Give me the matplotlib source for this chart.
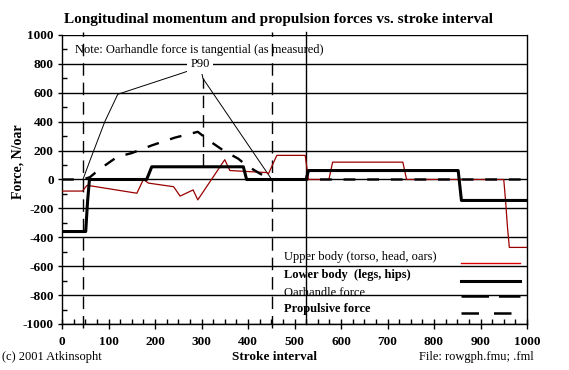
import numpy as np
import matplotlib
matplotlib.use("Agg")
import matplotlib.pyplot as plt

plt.rcParams['font.family'] = ['Liberation Serif', 'DejaVu Serif']
plt.rcParams['axes.unicode_minus'] = False

# stroke interval positions and forces (N/oar)
upper_x = [0, 44, 54, 161, 175, 186, 240, 254, 282, 292, 350, 361, 440, 444, 462,
           523, 530, 574, 582, 733, 741, 950, 954, 958, 962, 1000]
upper_y = [-80, -80, -40, -95, 0, -25, -50, -115, -72, -141, 137, 62, 48, 40, 167,
           167, 0, 0, 120, 120, 0, 0, -150, -330, -470, -470]

lower_x = [0, 51, 55, 59, 182, 193, 390, 397, 525, 530, 852, 859, 1000]
lower_y = [-360, -360, -150, 0, 0, 88, 88, 0, 0, 62, 62, -145, -145]

oar_x = [0, 45, 60, 92, 120, 257, 298, 303, 451, 1000]
oar_y = [0, 0, 130, 400, 590, 735, 780, 700, 0, 0]

prop_x = [0, 45, 60, 82, 118, 150, 193, 243, 286, 292, 318, 347, 379, 397, 426, 450, 1000]
prop_y = [0, 0, 16, 74, 155, 183, 236, 290, 325, 330, 265, 201, 144, 97, 40, 0, 0]

# event markers along the stroke
mark_dashed = [46, 451]
mark_solid = [525]
p90_x = 303
p90_span = [95, 700]

red = '#990000'

fig = plt.figure(figsize=(5.69, 3.70), dpi=100)
ax = fig.add_axes([62 / 569, 46 / 370, 465 / 569, 289 / 370])

ax.set_xlim(0, 1000)
ax.set_ylim(-1000, 1000)
ax.set_xticks(np.arange(0, 1001, 100))
ax.set_xticks(np.arange(0, 1001, 25), minor=True)
ax.set_yticks(np.arange(-1000, 1001, 200))
ax.set_yticks(np.arange(-900, 1000, 200), minor=True)
ax.tick_params(axis='x', which='major', direction='inout', length=7, width=1,
               labelsize=9.5, pad=5)
ax.tick_params(axis='x', which='minor', direction='in', length=3.5, width=1)
ax.tick_params(axis='y', which='major', direction='out', length=3, width=1,
               labelsize=9.5, pad=3)
ax.tick_params(axis='y', which='minor', direction='in', length=3.5, width=1)
for lab in ax.get_xticklabels() + ax.get_yticklabels():
    lab.set_fontweight('bold')
ax.spines['top'].set_visible(False)
for s in ['left', 'right', 'bottom']:
    ax.spines[s].set_linewidth(1)
ax.yaxis.grid(True, which='major', color='black', linewidth=1)
ax.set_axisbelow(True)

for xv in mark_dashed:
    ax.plot([xv, xv], [-1025, 1020], color='black', lw=1, ls=(0, (9, 5)),
            clip_on=False, zorder=2)
for xv in mark_solid:
    ax.plot([xv, xv], [-1000, 1020], color='black', lw=1, clip_on=False, zorder=2)
ax.plot([p90_x, p90_x], p90_span, color='black', lw=1, ls=(0, (9, 5)), zorder=2)

ax.plot(oar_x, oar_y, color='black', lw=0.7, zorder=3)
ax.plot(upper_x, upper_y, color=red, lw=0.9, zorder=4)
ax.plot(lower_x, lower_y, color='black', lw=2.2, zorder=5)
ax.plot(prop_x, prop_y, color='black', lw=1.7, ls=(0, (5, 5)), zorder=6)

ax.text(297, 797, 'P90', fontsize=9, ha='center', va='center', zorder=7,
        bbox=dict(facecolor='white', edgecolor='none', pad=2.5))
ax.text(0.028, 0.948, 'Note: Oarhandle force is tangential (as measured)',
        transform=ax.transAxes, fontsize=9, ha='left', va='center', zorder=7)

# legend, labels left, samples on the right
labels = ['Upper body (torso, head, oars)', 'Lower body  (legs, hips)',
          'Oarhandle force', 'Propulsive force']
weights = ['normal', 'bold', 'normal', 'bold']
label_y = [0.232, 0.170, 0.107, 0.052]
sample_y = [0.211, 0.150, 0.097, 0.038]
styles = [dict(color='#dd0000', lw=1, ls='-'),
          dict(color='black', lw=2.2, ls='-'),
          dict(color='black', lw=1.8, ls=(0, (11, 4))),
          dict(color='black', lw=1.8, ls=(0, (7, 6)))]
for lab, w, ly, sy, st in zip(labels, weights, label_y, sample_y, styles):
    ax.text(0.477, ly, lab, transform=ax.transAxes, fontsize=9, fontweight=w,
            ha='left', va='center', zorder=7)
    ax.plot([0.858, 0.985], [sy, sy], transform=ax.transAxes, zorder=7, **st)

ax.set_ylabel('Force, N/oar', fontsize=10, fontweight='bold')
ax.yaxis.set_label_coords((25 - 62) / 465, 0.56)

fig.text(278 / 569, 1 - 20 / 370,
         'Longitudinal momentum and propulsion forces vs. stroke interval',
         fontsize=11, fontweight='bold', ha='center', va='center')
fig.text(275 / 569, 1 - 357 / 370, 'Stroke interval', fontsize=9.5,
         fontweight='bold', ha='center', va='center')
fig.text(2 / 569, 1 - 357 / 370, '(c) 2001 Atkinsopht', fontsize=9,
         ha='left', va='center')
fig.text(534 / 569, 1 - 357 / 370, 'File: rowgph.fmu; .fml', fontsize=9,
         ha='right', va='center')

fig.savefig('out.png', dpi=100, facecolor='white')
